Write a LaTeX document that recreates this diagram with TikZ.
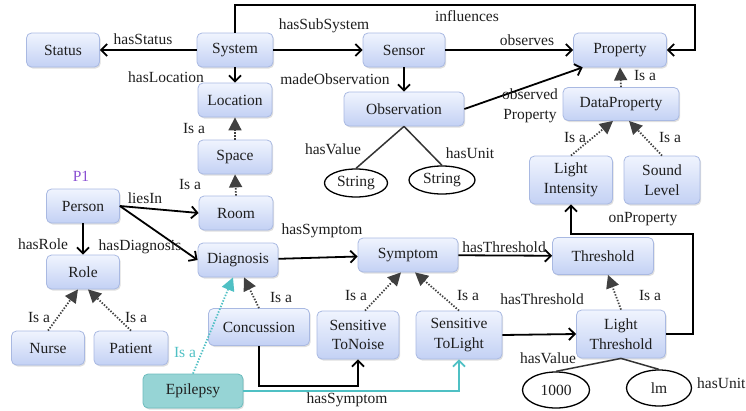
\documentclass[tikz,border=0pt]{standalone}
\usepackage{fontspec}
\setmainfont{Liberation Serif}
\usetikzlibrary{arrows.meta,shapes.geometric,shadows}
\definecolor{boxtop}{HTML}{F0F4FE}
\definecolor{boxbot}{HTML}{C3D1F4}
\definecolor{boxline}{HTML}{A9B9E2}
\definecolor{isagray}{HTML}{404040}
\definecolor{tealarr}{HTML}{4FC0C4}
\definecolor{tealfill}{HTML}{96D4D5}
\definecolor{tealline}{HTML}{6CBCBD}
\definecolor{ponecol}{HTML}{8A4FD2}
\definecolor{txt}{HTML}{1E1E1E}
\begin{document}
\begin{tikzpicture}[x=1pt,y=-1pt,
  font=\fontsize{15.5}{19.5}\selectfont,
  box/.style={rounded corners=5pt, draw=boxline, line width=0.8pt,
    top color=boxtop, bottom color=boxbot, minimum height=34, inner sep=2pt,
    align=center, text=txt,
    drop shadow={opacity=0.25,shadow xshift=1.2pt,shadow yshift=-1.5pt}},
  epi/.style={rounded corners=5pt, draw=tealline, line width=0.8pt,
    fill=tealfill, minimum height=34, inner sep=2pt, align=center, text=txt,
    drop shadow={opacity=0.25,shadow xshift=1.2pt,shadow yshift=-1.5pt}},
  ell/.style={ellipse, draw=black, line width=1.3pt, fill=white, inner sep=0pt, text=txt},
  lab/.style={inner sep=0pt, text=txt, align=center},
  arr/.style={draw=black, line width=1.8pt, -{Straight Barb[length=6pt,width=12pt,line width=1.8pt]}},
  isa/.style={draw=isagray, line width=1.8pt, dash pattern=on 1.4pt off 1.6pt,
    -{Triangle[length=13pt,width=13pt]}},
  isateal/.style={draw=tealarr, line width=1.8pt, dash pattern=on 1.4pt off 1.6pt,
    -{Triangle[length=13pt,width=13pt]}},
  plain/.style={draw=black!80, line width=1.5pt},
]
\useasboundingbox (0,0) rectangle (746,410);

% nodes
\node[box,minimum width=73] (status) at (63,50) {Status};
\node[box,minimum width=76] (system) at (235,50) {System};
\node[box,minimum width=82] (sensor) at (404,50) {Sensor};
\node[box,minimum width=93] (property) at (620,50) {Property};
\node[box,minimum width=74] (location) at (235,100) {Location};
\node[box,minimum width=120] (observation) at (404,109) {Observation};
\node[box,minimum width=116,minimum height=33] (dataprop) at (621,104) {DataProperty};
\node[box,minimum width=74] (space) at (235,157) {Space};
\node[box,minimum width=74] (room) at (236,213) {Room};
\node[box,minimum width=73] (person) at (83,206) {Person};
\node[box,minimum width=73] (role) at (83,272) {Role};
\node[box,minimum width=73] (nurse) at (48,348) {Nurse};
\node[box,minimum width=74] (patient) at (131,348) {Patient};
\node[box,minimum width=80] (diagnosis) at (238,260) {Diagnosis};
\node[box,minimum width=101,minimum height=37] (concussion) at (259,327) {Concussion};
\node[epi,minimum width=100] (epilepsy) at (193,391) {Epilepsy};
\node[box,minimum width=82,minimum height=48] (noise) at (358,335) {Sensitive\\ToNoise};
\node[box,minimum width=86,minimum height=48] (light) at (459,335) {Sensitive\\ToLight};
\node[box,minimum width=100] (symptom) at (408,255) {Symptom};
\node[box,minimum width=101,minimum height=37] (threshold) at (603,256) {Threshold};
\node[box,minimum width=89,minimum height=48] (lthresh) at (621,334) {Light\\Threshold};
\node[box,minimum width=83,minimum height=48] (lintens) at (571,180) {Light\\Intensity};
\node[box,minimum width=76,minimum height=48] (sound) at (662,180) {Sound\\Level};

\node[ell,minimum width=63,minimum height=28] (str1) at (356,183) {String};
\node[ell,minimum width=66,minimum height=28] (str2) at (442,180) {String};
\node[ell,minimum width=67,minimum height=36] (v1000) at (556,390) {1000};
\node[ell,minimum width=65,minimum height=36] (lm) at (659,388) {lm};

\coordinate (c1) at (695,5);
\coordinate (c2) at (693,234);

% connectors
\draw[arr] (system) -- (status);
\draw[arr] (system) -- (sensor);
\draw[arr] (system.north) |- (c1) |- (property.east);
\draw[arr] (sensor) -- (property);
\draw[arr] (sensor.south) -- (observation.north);
\draw[arr] (system.south) -- (location.north);
\draw[arr] (observation.east) -- (property.205);
\draw[plain] (observation.south) -- (str1.north);
\draw[plain] (observation.south) -- (str2.north);
\draw[isa] (dataprop.north) -- (property.south);
\draw[isa] (lintens.north) -- ([xshift=-8]dataprop.south);
\draw[isa] (sound.north) -- ([xshift=8]dataprop.south);
\draw[isa] (space.north) -- (location.south);
\draw[isa] (room.north) -- (space.south);
\draw[arr] (person.east) -- (room.west);
\draw[arr] (person.east) -- (diagnosis.west);
\draw[arr] (person.south) -- (role.north);
\draw[isa] (nurse.north) -- ([xshift=-5]role.south);
\draw[isa] (patient.north) -- ([xshift=5]role.south);
\draw[arr] (diagnosis) -- (symptom);
\draw[arr] (symptom) -- (threshold);
\draw[isa] (concussion.north) -- ([xshift=6]diagnosis.south);
\draw[isateal] (epilepsy.north) -- ([xshift=-5]diagnosis.south);
\draw[isa] ([xshift=7]noise.north) -- ([xshift=-7]symptom.south);
\draw[isa] (light.north) -- ([xshift=7]symptom.south);
\draw[arr] (light.east) -- (lthresh.west);
\draw[isa] (lthresh.north) -- ([xshift=5]threshold.south);
\draw[arr] (lthresh.east) -| (c2) -| (lintens.south);
\draw[arr] (concussion.south) -- ++(0,40) -| (noise.south);
\draw[draw=tealarr, line width=1.8pt, -{Straight Barb[length=6pt,width=12pt,line width=1.8pt]}] (epilepsy.east) -| (light.south);
\draw[plain] (lthresh.south) -- (v1000.north);
\draw[plain] (lthresh.south) -- (lm.north);

% labels
\node[lab] (l1) at (143,39) {hasStatus};
\node[lab] (l2) at (166,77) {hasLocation};
\node[lab] (l3) at (194,128) {Is a};
\node[lab] (l4) at (324,26) {hasSubSystem};
\node[lab] (l5) at (467,16) {influences};
\node[lab] (l6) at (335,79) {madeObservation};
\node[lab] (l7) at (527,40) {observes};
\node[lab] (l8) at (645,75) {Is a};
\node[lab] (l9) at (530,106) {observed\\Property};
\node[lab] (l10) at (575,137) {Is a};
\node[lab] (l11) at (670,137) {Is a};
\node[lab] (l12) at (333,149) {hasValue};
\node[lab] (l13) at (470,153) {hasUnit};
\node[lab,text=ponecol] (l14) at (81,176) {P1};
\node[lab] (l15) at (145,198) {liesIn};
\node[lab] (l16) at (190,184) {Is a};
\node[lab] (l17) at (43,244) {hasRole};
\node[lab] (l18) at (140,247) {hasDiagnosis};
\node[lab] (l19) at (322,231) {hasSymptom};
\node[lab] (l20) at (504,247) {hasThreshold};
\node[lab] (l21) at (643,219) {onProperty};
\node[lab] (l22) at (39,317) {Is a};
\node[lab] (l23) at (136,317) {Is a};
\node[lab,text=tealarr] (l24) at (185,352) {Is a};
\node[lab] (l25) at (281,297) {Is a};
\node[lab] (l26) at (356,295) {Is a};
\node[lab] (l27) at (468,295) {Is a};
\node[lab] (l28) at (347,400) {hasSymptom};
\node[lab] (l29) at (542,299) {hasThreshold};
\node[lab] (l30) at (650,295) {Is a};
\node[lab] (l31) at (548,358) {hasValue};
\node[lab,anchor=west] (l32) at (697,383) {hasUnit};
\end{tikzpicture}
\end{document}
